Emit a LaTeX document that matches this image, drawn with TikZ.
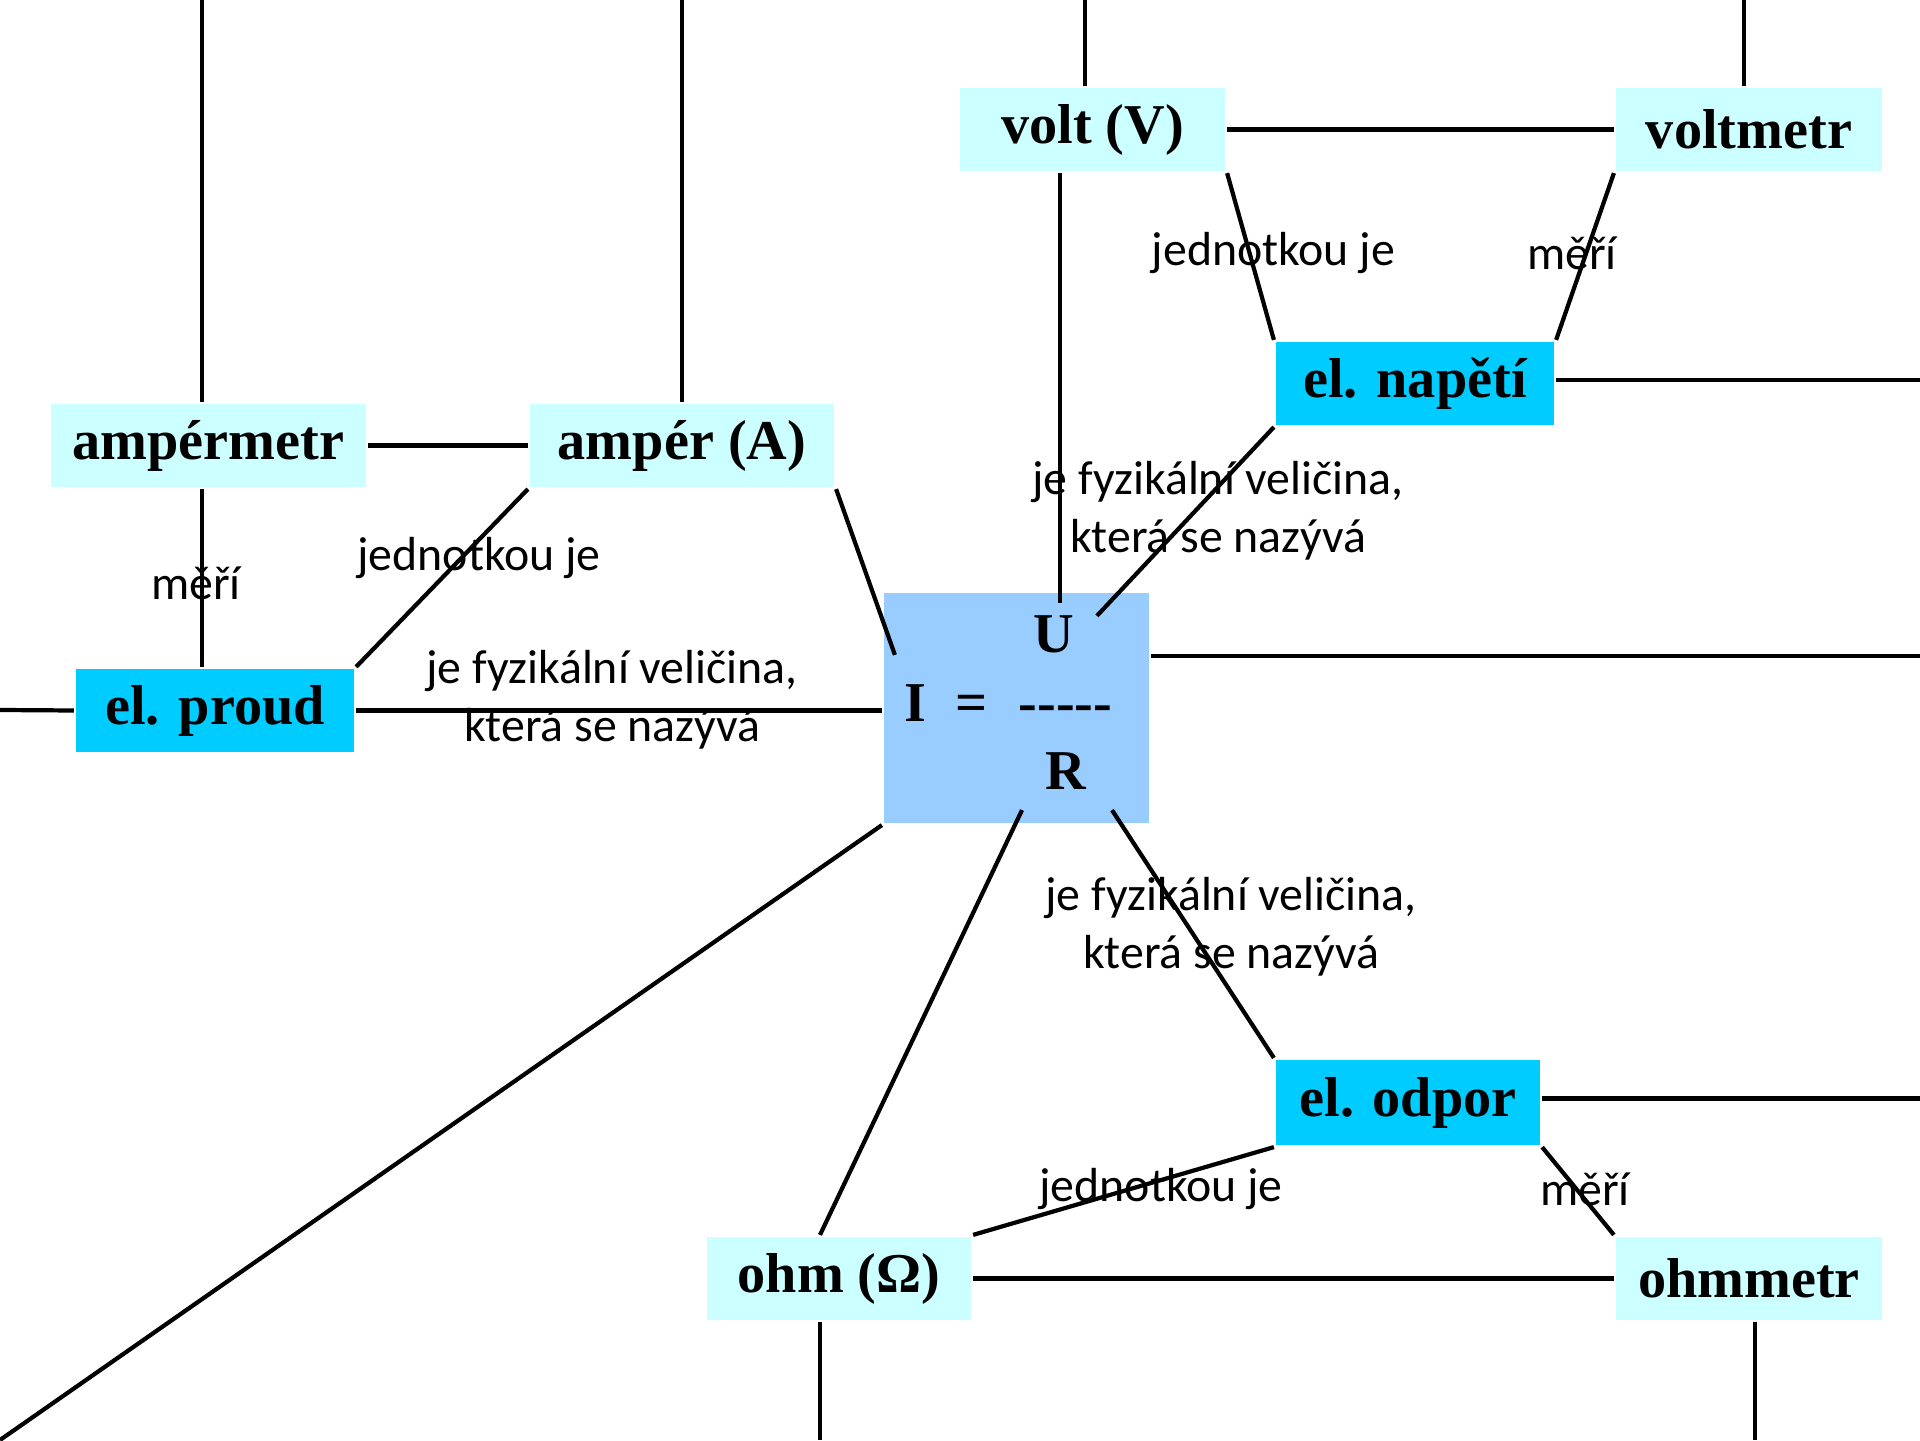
\documentclass[tikz,border=0pt]{standalone}
\usepackage{fontspec}
\setmainfont{Liberation Serif}
\newfontfamily\popisfont{Carlito}
\usetikzlibrary{positioning, calc}
\definecolor{svetla}{HTML}{CCFFFF}
\definecolor{tmava}{HTML}{00CCFF}
\definecolor{modra}{HTML}{99CCFF}

\begin{document}
\begin{tikzpicture}[line width=1.2pt,
  pojem/.style={fill=svetla, font=\fontsize{16}{19}\selectfont\bfseries, minimum height=8.3mm, inner sep=0pt},
  velicina/.style={pojem, fill=tmava},
  rovnice/.style={fill=modra, font=\fontsize{16}{19}\selectfont\bfseries, minimum width=2.65cm, minimum height=2.3cm, inner sep=0pt},
  popis/.style={font=\popisfont\fontsize{13.6}{16.4}\selectfont, align=center, inner sep=0pt}]
\useasboundingbox (0,0) rectangle (19.2,14.4);
\node[pojem, minimum width=3.15cm] (ampermetr) at (2.085,9.945) {ampérmetr};
\node[pojem, minimum width=3.04cm] (amper) at (6.82,9.945) {ampér (A)};
\node[velicina, minimum width=2.78cm] (proud) at (2.15,7.295) {el. proud};
\node[rovnice] (vzorec) at (10.165,7.32) {\raisebox{-0.4mm}{\begin{tabular}{@{}c@{\hspace{2.9mm}}c@{\hspace{3.1mm}}c@{}} & & U\kern2.4mm\\[0.5pt] I & = & -{}-{}-{}-{}-\\[0.5pt] & & R\end{tabular}}\kern1.6mm};
\node[pojem, minimum width=2.65cm] (volt) at (10.925,13.105) {volt (V)};
\node[pojem, minimum width=2.66cm] (voltmetr) at (17.49,13.105) {voltmetr};
\node[velicina, minimum width=2.78cm] (napeti) at (14.15,10.565) {el. napětí};
\node[velicina, minimum width=2.64cm, minimum height=8.5mm] (odpor) at (14.08,3.375) {el. odpor};
\node[pojem, minimum width=2.64cm] (ohm) at (8.39,1.615) {ohm (Ω)};
\node[pojem, minimum width=2.66cm] (ohmmetr) at (17.49,1.615) {ohmmetr};
\coordinate (nahore1) at (2.02,14.4);
\coordinate (nahore2) at (6.82,14.4);
\coordinate (nahore3) at (10.85,14.4);
\coordinate (nahore4) at (17.44,14.4);
\coordinate (vlevo) at (0,7.30);
\coordinate (vpravo1) at (19.2,10.60);
\coordinate (vpravo2) at (19.2,7.84);
\coordinate (vpravo3) at (19.2,3.416);
\coordinate (dole1) at (8.20,0);
\coordinate (dole2) at (17.55,0);
\coordinate (roh) at (0,0);
\draw (nahore1 |- ampermetr.north) -- (nahore1);
\draw (nahore2 |- amper.north) -- (nahore2);
\draw (nahore3 |- volt.north) -- (nahore3);
\draw (nahore4 |- voltmetr.north) -- (nahore4);
\draw (ampermetr.east) -- (amper.west);
\draw (nahore1 |- ampermetr.south) -- (nahore1 |- proud.north);
\draw (proud.north east) -- (amper.south west);
\draw (proud.east) -- (vzorec.west |- proud.east);
\draw (vlevo) -- (proud.west);
\draw (amper.south east) -- ($(vzorec.north west)+(0.13,-0.64)$);
\draw (volt.east) -- (voltmetr.west);
\draw ([xshift=-3.25mm]volt.south) -- ([xshift=-3.25mm, yshift=-1.2mm]volt.south |- vzorec.north);
\draw (volt.south east) -- (napeti.north west);
\draw (voltmetr.south west) -- (napeti.north east);
\draw (napeti.east |- vpravo1) -- (vpravo1);
\draw (napeti.south west) -- ($(vzorec.north west)+(2.15,-0.25)$);
\draw (vzorec.east |- vpravo2) -- (vpravo2);
\draw (vzorec.south west) -- (roh);
\draw ($(vzorec.south)+(0.055,0.15)$) -- ([xshift=-1.9mm]ohm.north);
\draw ($(vzorec.south)+(0.955,0.15)$) -- (odpor.north west);
\draw (odpor.south west) -- (ohm.north east);
\draw (odpor.east |- vpravo3) -- (vpravo3);
\draw (odpor.south east) -- (ohmmetr.north west);
\draw (ohm.east) -- (ohmmetr.west);
\draw (dole1 |- ohm.south) -- (dole1);
\draw (dole2 |- ohmmetr.south) -- (dole2);
\node[popis] (meri1) at (1.96,8.57) {měří};
\node[popis] (jednotka1) at (4.79,8.82) {jednotkou je};
\node[popis] (definice1) at (6.12,7.40) {je fyzikální veličina,\\ která se nazývá};
\node[popis] (jednotka2) at (12.735,11.865) {jednotkou je};
\node[popis] (meri2) at (15.72,11.865) {měří};
\node[popis] (definice2) at (12.18,9.294) {je fyzikální veličina,\\ která se nazývá};
\node[popis] (definice3) at (12.31,5.13) {je fyzikální veličina,\\ která se nazývá};
\node[popis] (jednotka3) at (11.61,2.51) {jednotkou je};
\node[popis] (meri3) at (15.85,2.51) {měří};
\end{tikzpicture}
\end{document}
